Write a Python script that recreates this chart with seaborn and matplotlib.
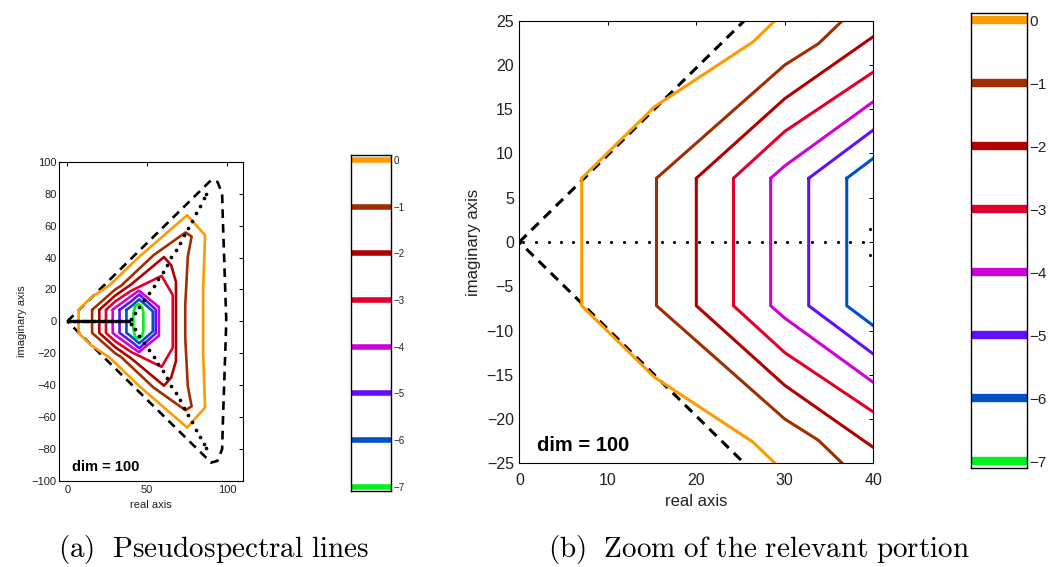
import numpy as np
import pandas as pd
import matplotlib
matplotlib.use('Agg')
import matplotlib.pyplot as plt
import seaborn as sns

# contour levels (log10 of epsilon), outermost first, and their colours
levels = [0, -1, -2, -3, -4, -5, -6, -7]
level_colors = ['#FF9A00', '#A02E00', '#B00000', '#E0002A', '#D000D8',
                '#6010F8', '#0050C8', '#00F020']

# pseudospectral contours (real part, imaginary part)
c0_re = [7.05, 15.3, 26.4, 45.0, 75.0, 86.2, 85.0, 85.0, 86.2, 75.0, 45.0, 26.4, 15.3, 7.05, 7.05]
c0_im = [7.2, 15.3, 22.6, 40.5, 66.5, 54.0, 20.0, -20.0, -54.0, -66.5, -40.5, -22.6, -15.3, -7.2, 7.2]

c1_re = [15.5, 30.0, 33.8, 36.5, 54.0, 74.0, 77.8, 75.4, 73.8, 73.8, 75.4, 77.8, 74.0, 54.0, 36.5, 33.8, 30.0, 15.5, 15.5]
c1_im = [7.2, 20.0, 22.4, 25.0, 41.5, 55.7, 53.2, 40.5, 10.0, -10.0, -40.5, -53.2, -55.7, -41.5, -25.0, -22.4, -20.0, -7.2, 7.2]

c2_re = [20.0, 30.0, 40.0, 60.5, 65.0, 68.0, 68.0, 65.0, 60.5, 40.0, 30.0, 20.0, 20.0]
c2_im = [7.2, 16.2, 23.2, 40.3, 35.2, 24.8, -24.8, -35.2, -40.3, -23.2, -16.2, -7.2, 7.2]

c3_re = [24.2, 30.0, 40.0, 59.0, 66.0, 66.0, 59.0, 40.0, 30.0, 24.2, 24.2]
c3_im = [7.2, 12.5, 19.2, 28.5, 16.5, -16.5, -28.5, -19.2, -12.5, -7.2, 7.2]

c4_re = [28.4, 30.0, 40.0, 44.8, 57.3, 57.3, 44.8, 40.0, 30.0, 28.4, 28.4]
c4_im = [7.2, 8.6, 15.85, 19.3, 9.0, -9.0, -19.3, -15.85, -8.6, -7.2, 7.2]

c5_re = [32.7, 40.0, 45.0, 55.3, 55.3, 45.0, 40.0, 32.7, 32.7]
c5_im = [7.2, 12.65, 16.8, 7.5, -7.5, -16.8, -12.65, -7.2, 7.2]

c6_re = [37.0, 40.0, 45.0, 53.5, 53.5, 45.0, 40.0, 37.0, 37.0]
c6_im = [7.2, 9.45, 13.8, 6.3, -6.3, -13.8, -9.45, -7.2, 7.2]

c7_re = [41.3, 42.5, 44.5, 46.5, 47.6, 47.6, 46.5, 44.5, 42.5, 41.3, 41.3]
c7_im = [5.0, 9.5, 10.8, 9.5, 6.0, -6.0, -9.5, -10.8, -9.5, -5.0, 5.0]

contours_re = [c0_re, c1_re, c2_re, c3_re, c4_re, c5_re, c6_re, c7_re]
contours_im = [c0_im, c1_im, c2_im, c3_im, c4_im, c5_im, c6_im, c7_im]

# dashed boundary curve
bound_re = [0.0, 90.0, 94.0, 96.9, 97.3, 99.5, 97.3, 96.9, 94.0, 90.0, 0.0]
bound_im = [0.0, 88.5, 87.4, 80.0, 65.0, 0.0, -65.0, -80.0, -87.4, -88.5, 0.0]

# computed eigenvalues: a run on the real axis, then two branches
eig_re = [0.45, 1.9, 3.3, 4.7, 6.1, 7.6, 9.0, 10.4, 11.8, 13.2, 14.7, 16.1, 17.5, 18.9,
          20.3, 21.8, 23.2, 24.6, 26.0, 27.4, 28.9, 30.3, 31.7, 33.1, 34.5, 36.0, 37.4, 38.8,
          39.6, 42.1, 45.0, 48.0, 51.0, 54.0, 56.8, 59.6, 62.4, 65.1, 67.8, 70.5, 73.1,
          75.7, 78.2, 80.6, 83.0, 85.3, 86.8,
          39.6, 42.1, 45.0, 48.0, 51.0, 54.0, 56.8, 59.6, 62.4, 65.1, 67.8, 70.5, 73.1,
          75.7, 78.2, 80.6, 83.0, 85.3, 86.8]
eig_im = [0.0] * 28 + \
         [1.5, 5.0, 9.2, 13.6, 17.9, 22.2, 26.6, 31.1, 35.6, 40.2, 44.8, 49.4, 54.0,
          58.6, 63.2, 67.8, 72.4, 77.0, 79.5] + \
         [-1.5, -5.0, -9.2, -13.6, -17.9, -22.2, -26.6, -31.1, -35.6, -40.2, -44.8, -49.4, -54.0,
          -58.6, -63.2, -67.8, -72.4, -77.0, -79.5]

level_labels = ['0', '\u22121', '\u22122', '\u22123', '\u22124', '\u22125', '\u22126', '\u22127']

sns.set_theme(style='white')
plt.rcParams['font.family'] = ['Liberation Sans', 'DejaVu Sans']
plt.rcParams['mathtext.fontset'] = 'cm'
plt.rcParams['axes.edgecolor'] = 'black'
plt.rcParams['axes.linewidth'] = 0.8

rows = []
for lev, xs, ys in zip(levels, contours_re, contours_im):
    for i, (x, y) in enumerate(zip(xs, ys)):
        rows.append({'level': lev, 'order': i, 'real': x, 'imag': y})
cont = pd.DataFrame(rows)
eig = pd.DataFrame({'real': eig_re, 'imag': eig_im})
palette = dict(zip(levels, level_colors))


def draw_panel(ax, lw, dot, fs_tick, fs_label, fs_dim, xlim, ylim, xticks, yticks,
               dim_pos, xpad, ypad, lpad):
    ax.plot(bound_re, bound_im, color='black', lw=lw, dashes=(3.3, 2.3))
    sns.lineplot(data=cont, x='real', y='imag', hue='level', palette=palette,
                 units='level', estimator=None, sort=False, lw=lw, legend=False, ax=ax)
    sns.scatterplot(data=eig, x='real', y='imag', color='black', s=dot, linewidth=0,
                    legend=False, ax=ax, zorder=5)
    ax.set_xlim(*xlim)
    ax.set_ylim(*ylim)
    ax.set_xticks(xticks)
    ax.set_yticks(yticks)
    ax.set_xticklabels([str(t).replace('-', '\u2212') for t in xticks])
    ax.set_yticklabels([str(t).replace('-', '\u2212') for t in yticks])
    ax.tick_params(direction='in', top=True, right=True, length=3, width=0.7,
                   labelsize=fs_tick, colors='black', labelcolor='#222222')
    ax.tick_params(axis='x', pad=xpad)
    ax.tick_params(axis='y', pad=ypad)
    ax.set_xlabel('real axis', fontsize=fs_label, color='#222222', labelpad=lpad)
    ax.set_ylabel('imaginary axis', fontsize=fs_label, color='#222222', labelpad=lpad)
    ax.text(dim_pos[0], dim_pos[1], 'dim = 100', fontsize=fs_dim, fontweight='bold',
            ha='left', va='center', color='black')
    for s in ax.spines.values():
        s.set_color('black')


def draw_bar(ax, lw, fs, ylim):
    for lev, col in zip(levels, level_colors):
        ax.axhline(lev, color=col, lw=lw)
    ax.set_xlim(0, 1)
    ax.set_ylim(*ylim)
    ax.set_xticks([])
    ax.yaxis.tick_right()
    ax.set_yticks(levels)
    ax.set_yticklabels(level_labels)
    ax.tick_params(axis='y', direction='in', length=0, labelsize=fs,
                   labelcolor='#222222', pad=2)
    for s in ax.spines.values():
        s.set_color('black')
        s.set_linewidth(1.0)


fig = plt.figure(figsize=(10.5, 5.67), dpi=100)

ax1 = fig.add_axes([0.0565, 0.1517, 0.175, 0.563])
draw_panel(ax1, 1.9, 7, 8, 8, 10.5, (-5, 110), (-100, 100), [0, 50, 100],
           list(range(-100, 101, 20)), (3.1, -91.5), 3, 2, 3.5)

cb1 = fig.add_axes([0.3343, 0.1346, 0.0381, 0.592])
draw_bar(cb1, 4, 7, (-7.086, 0.107))

ax2 = fig.add_axes([0.4946, 0.1829, 0.3371, 0.7806])
draw_panel(ax2, 2.2, 5, 11.5, 12, 14.5, (0, 40), (-25, 25), [0, 10, 20, 30, 40],
           list(range(-25, 26, 5)), (2.0, -23.0), 7, 4, 4)

cb2 = fig.add_axes([0.9248, 0.174, 0.053, 0.8035])
draw_bar(cb2, 6, 11, (-7.116, 0.116))

fig.text(0.203, 0.030, r'$\mathrm{(a)\ \ Pseudospectral\ lines}$', fontsize=21,
         ha='center', va='center', color='black')
fig.text(0.723, 0.030, r'$\mathrm{(b)\ \ Zoom\ of\ the\ relevant\ portion}$', fontsize=21,
         ha='center', va='center', color='black')

fig.savefig('out.png', dpi=100, facecolor='white')
